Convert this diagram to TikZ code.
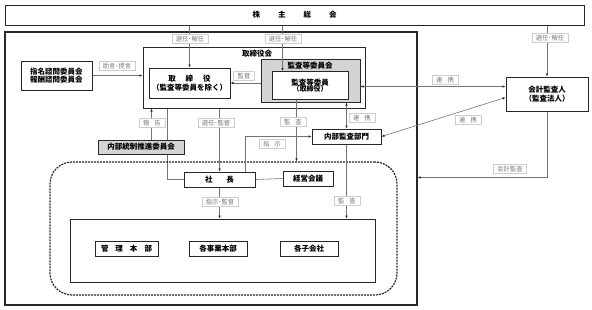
\documentclass[tikz,border=0pt]{standalone}
\usepackage{fontspec}
\setmainfont{Noto Sans CJK JP}
\usepackage{tikz}
\definecolor{frame}{RGB}{40, 40, 40}
\definecolor{linegray}{RGB}{115, 115, 115}
\definecolor{tagtext}{RGB}{120, 120, 120}
\definecolor{tagline}{RGB}{205, 205, 205}
\definecolor{shade}{RGB}{212, 212, 212}
\usetikzlibrary{arrows.meta, positioning, calc, backgrounds}

\begin{document}
\begin{tikzpicture}[x=1pt, y=-1pt,
    box/.style={draw=frame, line width=1pt, fill=white, inner sep=0pt, align=center,
                font=\bfseries\fontsize{7.5}{8.5}\selectfont},
    graybox/.style={box, fill=shade},
    group/.style={draw=frame, line width=1pt, inner sep=0pt},
    title/.style={font=\bfseries\fontsize{7.5}{8.5}\selectfont, inner sep=0pt},
    tag/.style={draw=tagline, fill=white, text=tagtext, line width=0.5pt, inner xsep=4pt,
                inner ysep=1.8pt, font=\fontsize{6.3}{7}\selectfont},
    arrow/.style={-{Latex[length=3pt, width=2.6pt, color=frame]}, line width=0.6pt, linegray},
    twoway/.style={{Latex[length=3pt, width=2.6pt, color=frame]}-{Latex[length=3pt, width=2.6pt, color=frame]},
                   line width=0.6pt, linegray},
    link/.style={line width=0.6pt, linegray}
]
    \useasboundingbox (0,0) rectangle (592,309);

    \node[box, minimum width=579pt, minimum height=20pt] (soukai) at (294.5,15)
        {株\hspace{18pt}主\hspace{18pt}総\hspace{18pt}会};
    \node[group, line width=1.3pt, minimum width=412pt, minimum height=273pt] (outer) at (211,168.5) {};

    \node[group, minimum width=222pt, minimum height=61pt] (board) at (254,77.5) {};
    \node[title] (boardlbl) at (257,54) {取締役会};
    \node[box, minimum width=81pt, minimum height=30pt] (director) at (189.5,83)
        {取\hspace{10pt}締\hspace{10pt}役\\（監査等委員を除く）};
    \node[graybox, minimum width=99pt, minimum height=43pt] (ac) at (310.5,80.5) {};
    \node[title] (aclbl) at (310,66) {監査等委員会};
    \node[box, minimum width=76pt, minimum height=28pt] (acm) at (310,85.5)
        {監査等委員\\[-2pt]{\fontsize{7}{7}\selectfont （取締役）}};

    \node[box, minimum width=71pt, minimum height=29pt] (advisory) at (56.5,75.5)
        {指名諮問委員会\\報酬諮問委員会};
    \node[box, minimum width=82pt, minimum height=34pt] (auditor) at (547,94)
        {会計監査人\\（監査法人）};
    \node[box, minimum width=69pt, minimum height=15pt] (ia) at (346.5,136.5) {内部監査部門};
    \node[graybox, minimum width=86pt, minimum height=14pt] (icc) at (141,147) {内部統制推進委員会};

    \node[group, dashed, dash pattern=on 2pt off 1pt, line width=1.2pt, rounded corners=22pt,
          minimum width=347pt, minimum height=133pt] (group) at (223.5,228.5) {};
    \node[box, minimum width=71pt, minimum height=15pt] (pres) at (219.5,179.5) {社\hspace{14pt}長};
    \node[box, minimum width=50pt, minimum height=15pt] (mgmt) at (308,178.5) {経営会議};
    \node[group, line width=0.9pt, minimum width=305pt, minimum height=63pt] (ops) at (222.5,250.5) {};
    \node[box, minimum width=63pt, minimum height=15pt] (kanri) at (126.5,248.5)
        {管\hspace{7pt}理\hspace{7pt}本\hspace{7pt}部};
    \node[box, minimum width=58pt, minimum height=15pt] (jigyo) at (218,248.5) {各事業本部};
    \node[box, minimum width=58pt, minimum height=15pt] (kogaisha) at (309,248.5) {各子会社};

    \coordinate (acin) at ($(acm.north west)+(11,0)$);
    \coordinate (acout) at ($(acm.south west)+(25,0)$);
    \coordinate (rt1) at ($(auditor.north west)+(0,10)$);
    \coordinate (rt2) at ($(auditor.north west)+(0,21)$);
    \coordinate (rep) at ($(icc.north west)+(54,0)$);
    \coordinate (brd) at ($(board.south west)+(25,0)$);
    \coordinate (cmd) at ($(pres.north east)+(-10,0)$);
    \coordinate (acc) at ($(auditor.south)+(0,66)$);

    \draw[arrow] (soukai.south -| director.north) -- (director.north);
    \draw[arrow] (soukai.south -| acin) -- (acin);
    \draw[arrow] (soukai.south -| auditor.north) -- (auditor.north);
    \draw[arrow] (advisory.east) -- (advisory.east -| board.west);
    \draw[arrow] (ac.west |- director.east) -- (director.east);
    \draw[twoway] (ac.east |- rt1) -- (rt1);
    \draw[twoway] (ac.south -| ia.north) -- (ia.north);
    \draw[twoway] (rt2) -- (ia.east);
    \draw[arrow] (acout) -- (acout |- group.north);
    \draw[arrow] (board.south -| pres.north) -- (pres.north);
    \draw[arrow] (rep) -- (rep |- board.south);
    \begin{pgfonlayer}{background}
        \draw[link] (brd) |- (pres.west);
    \end{pgfonlayer}
    \draw[arrow] (cmd) |- (ia.west);
    \draw[link] (pres.east) -- (mgmt.west);
    \draw[arrow] (pres.south) -- (pres.south |- ops.north);
    \draw[arrow] (ia.south) -- (ia.south |- ops.north);
    \draw[arrow] (auditor.south) -- (acc) -- (acc -| outer.east);

    \node[tag] (t1) at (190,39) {選任･解任};
    \node[tag] (t2) at (283,39) {選任･解任};
    \node[tag] (t3) at (550,38) {選任･解任};
    \node[tag] (t4) at (117,66) {助言･提言};
    \node[tag] (t5) at (244,76) {監督};
    \node[tag] (t6) at (445,80) {連\hspace{5pt}携};
    \node[tag] (t7) at (362,118) {連\hspace{5pt}携};
    \node[tag] (t8) at (468,120) {連\hspace{5pt}携};
    \node[tag] (t9) at (152,123) {報\hspace{5pt}告};
    \node[tag] (t10) at (216,123) {選任･監督};
    \node[tag] (t11) at (293,122) {監\hspace{5pt}査};
    \node[tag] (t12) at (272,144) {指\hspace{5pt}示};
    \node[tag] (t13) at (220,202) {指示･監督};
    \node[tag] (t14) at (347,201) {監\hspace{5pt}査};
    \node[tag] (t15) at (510,169) {会計監査};
\end{tikzpicture}
\end{document}
